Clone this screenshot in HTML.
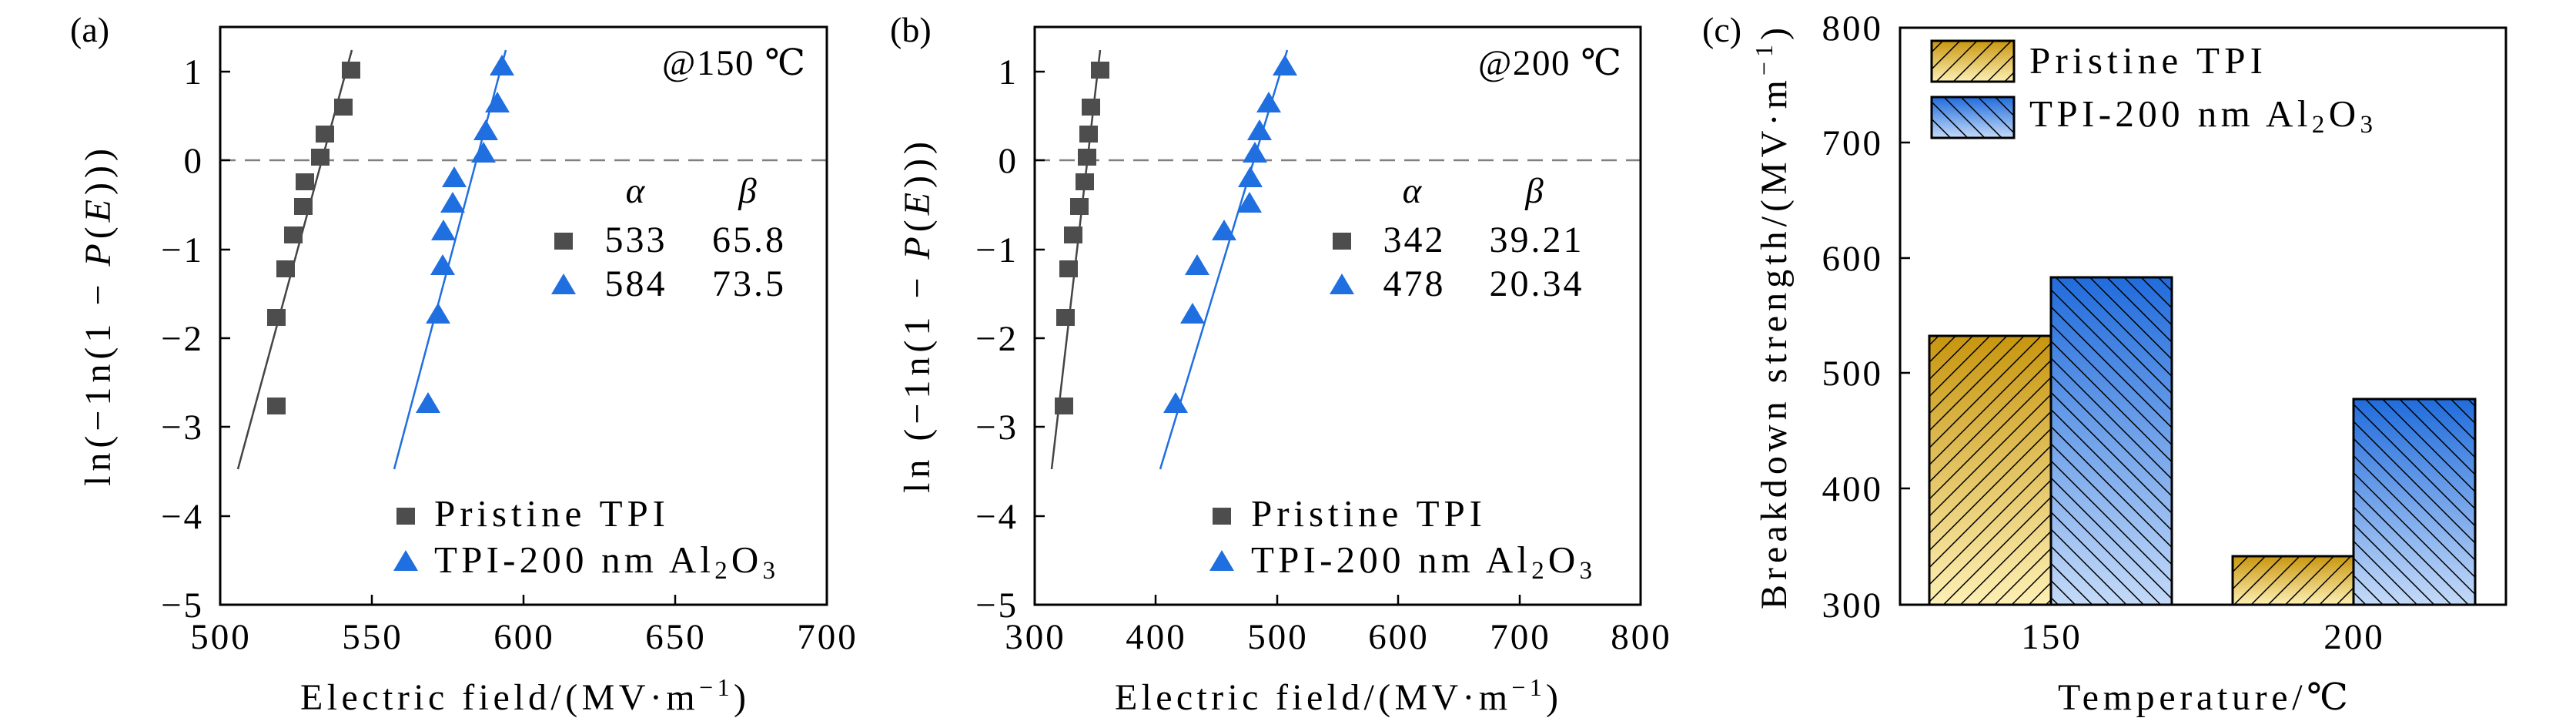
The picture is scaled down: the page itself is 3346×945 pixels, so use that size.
<!DOCTYPE html>
<html><head><meta charset="utf-8"><style>
html,body{margin:0;padding:0;background:#fff;}
svg{display:block;}
text{font-family:"Liberation Serif","DejaVu Serif",serif;fill:#000;}
.tk{letter-spacing:3px;}
</style></head><body>
<svg width="3346" height="945" viewBox="0 0 3346 945" xmlns="http://www.w3.org/2000/svg">
<defs>
<linearGradient id="gold" x1="0" y1="0" x2="0" y2="1"><stop offset="0" stop-color="#c8960f"/><stop offset="1" stop-color="#fdf0b4"/></linearGradient>
<linearGradient id="blue" x1="0" y1="0" x2="0" y2="1"><stop offset="0" stop-color="#206cdc"/><stop offset="1" stop-color="#c4daf8"/></linearGradient>
<pattern id="hf" patternUnits="userSpaceOnUse" width="15.7" height="15.7" patternTransform="rotate(45)"><line x1="0" y1="0" x2="0" y2="15.7" stroke="#000" stroke-width="3"/></pattern>
<pattern id="hb" patternUnits="userSpaceOnUse" width="15.7" height="15.7" patternTransform="rotate(-45)"><line x1="0" y1="0" x2="0" y2="15.7" stroke="#000" stroke-width="3"/></pattern>
<rect id="sq" x="-12" y="-11" width="24" height="22" fill="#4d4d4d"/>
<polygon id="tr" points="0,-15 -16,12 16,12" fill="#1f6fe0"/>
</defs>

<!-- Panel a -->
<line x1="286" y1="208" x2="1074" y2="208" stroke="#808080" stroke-width="2.5" stroke-dasharray="20,12"/>
<line x1="309" y1="609" x2="457" y2="65" stroke="#444" stroke-width="2.5"/>
<line x1="512" y1="609" x2="657" y2="65" stroke="#1f6fe0" stroke-width="2.5"/>
<g>
<use href="#sq" x="456" y="91"/><use href="#sq" x="446" y="139"/><use href="#sq" x="422" y="174"/><use href="#sq" x="416" y="204"/><use href="#sq" x="396" y="236"/><use href="#sq" x="394" y="268"/><use href="#sq" x="381" y="305"/><use href="#sq" x="371" y="349"/><use href="#sq" x="359" y="412"/><use href="#sq" x="359" y="527"/>
<use href="#tr" x="652" y="86"/><use href="#tr" x="646" y="134"/><use href="#tr" x="631" y="170"/><use href="#tr" x="628" y="199"/><use href="#tr" x="590" y="231"/><use href="#tr" x="588" y="264"/><use href="#tr" x="576" y="300"/><use href="#tr" x="575" y="345"/><use href="#tr" x="569" y="408"/><use href="#tr" x="556" y="524"/>
</g>
<rect x="286" y="35" width="788" height="750" fill="none" stroke="#000" stroke-width="3"/>
<g stroke="#000" stroke-width="2.5">
<line x1="483" y1="785" x2="483" y2="772"/><line x1="680" y1="785" x2="680" y2="772"/><line x1="877" y1="785" x2="877" y2="772"/>
<line x1="286" y1="93" x2="299" y2="93"/><line x1="286" y1="208" x2="299" y2="208"/><line x1="286" y1="324" x2="299" y2="324"/><line x1="286" y1="439" x2="299" y2="439"/><line x1="286" y1="554" x2="299" y2="554"/><line x1="286" y1="670" x2="299" y2="670"/>
</g>
<g font-size="47" text-anchor="end" class="tk">
<text x="265" y="109">1</text><text x="265" y="224">0</text><text x="265" y="340">−1</text><text x="265" y="455">−2</text><text x="265" y="570">−3</text><text x="265" y="686">−4</text><text x="265" y="801">−5</text>
</g>
<g font-size="47" text-anchor="middle" class="tk">
<text x="287" y="842">500</text><text x="484" y="842">550</text><text x="681" y="842">600</text><text x="878" y="842">650</text><text x="1075" y="842">700</text>
</g>
<text x="390" y="921" font-size="48" textLength="579" lengthAdjust="spacing">Electric field/(MV·m<tspan font-size="32" dy="-18">−1</tspan><tspan dy="18">)</tspan></text>
<text transform="translate(143,631) rotate(-90)" font-size="48" textLength="438" lengthAdjust="spacing">ln(−1n(1 − <tspan font-style="italic">P</tspan>(<tspan font-style="italic">E</tspan>)))</text>
<text x="91" y="54" font-size="46">(a)</text>
<text x="860" y="97" font-size="47" textLength="186" lengthAdjust="spacing">@150 ℃</text>
<text x="825" y="263" font-size="47" text-anchor="middle" font-style="italic">α</text>
<text x="971" y="263" font-size="47" text-anchor="middle" font-style="italic">β</text>
<use href="#sq" x="732" y="313"/><use href="#tr" x="732" y="370"/>
<g font-size="48" text-anchor="middle" class="tk"><text x="826" y="327">533</text><text x="973" y="327">65.8</text><text x="826" y="384">584</text><text x="973" y="384">73.5</text></g>
<use href="#sq" x="527" y="670"/><use href="#tr" x="527" y="729"/>
<text x="564" y="683" font-size="49" textLength="300" lengthAdjust="spacing">Pristine TPI</text>
<text x="564" y="743" font-size="49" textLength="443" lengthAdjust="spacing">TPI-200 nm Al<tspan font-size="33" dy="8">2</tspan><tspan dy="-8">O</tspan><tspan font-size="33" dy="8">3</tspan></text>

<!-- Panel b -->
<line x1="1344" y1="208" x2="2131" y2="208" stroke="#808080" stroke-width="2.5" stroke-dasharray="20,12"/>
<line x1="1366" y1="609" x2="1429" y2="65" stroke="#444" stroke-width="2.5"/>
<line x1="1507" y1="609" x2="1672" y2="65" stroke="#1f6fe0" stroke-width="2.5"/>
<g>
<use href="#sq" x="1429" y="91"/><use href="#sq" x="1417" y="139"/><use href="#sq" x="1414" y="174"/><use href="#sq" x="1412" y="204"/><use href="#sq" x="1409" y="236"/><use href="#sq" x="1402" y="268"/><use href="#sq" x="1394" y="305"/><use href="#sq" x="1388" y="349"/><use href="#sq" x="1384" y="412"/><use href="#sq" x="1382" y="527"/>
<use href="#tr" x="1669" y="86"/><use href="#tr" x="1648" y="134"/><use href="#tr" x="1636" y="170"/><use href="#tr" x="1630" y="199"/><use href="#tr" x="1624" y="231"/><use href="#tr" x="1623" y="264"/><use href="#tr" x="1590" y="300"/><use href="#tr" x="1555" y="345"/><use href="#tr" x="1549" y="408"/><use href="#tr" x="1527" y="524"/>
</g>
<rect x="1344" y="35" width="787" height="750" fill="none" stroke="#000" stroke-width="3"/>
<g stroke="#000" stroke-width="2.5">
<line x1="1501" y1="785" x2="1501" y2="772"/><line x1="1659" y1="785" x2="1659" y2="772"/><line x1="1816" y1="785" x2="1816" y2="772"/><line x1="1974" y1="785" x2="1974" y2="772"/>
<line x1="1344" y1="93" x2="1357" y2="93"/><line x1="1344" y1="208" x2="1357" y2="208"/><line x1="1344" y1="324" x2="1357" y2="324"/><line x1="1344" y1="439" x2="1357" y2="439"/><line x1="1344" y1="554" x2="1357" y2="554"/><line x1="1344" y1="670" x2="1357" y2="670"/>
</g>
<g font-size="47" text-anchor="end" class="tk">
<text x="1323" y="109">1</text><text x="1323" y="224">0</text><text x="1323" y="340">−1</text><text x="1323" y="455">−2</text><text x="1323" y="570">−3</text><text x="1323" y="686">−4</text><text x="1323" y="801">−5</text>
</g>
<g font-size="47" text-anchor="middle" class="tk">
<text x="1345" y="842">300</text><text x="1502" y="842">400</text><text x="1660" y="842">500</text><text x="1817" y="842">600</text><text x="1975" y="842">700</text><text x="2132" y="842">800</text>
</g>
<text x="1448" y="921" font-size="48" textLength="576" lengthAdjust="spacing">Electric field/(MV·m<tspan font-size="32" dy="-18">−1</tspan><tspan dy="18">)</tspan></text>
<text transform="translate(1207,640) rotate(-90)" font-size="48" textLength="456" lengthAdjust="spacing">ln (−1n(1 − <tspan font-style="italic">P</tspan>(<tspan font-style="italic">E</tspan>)))</text>
<text x="1156" y="54" font-size="46">(b)</text>
<text x="1920" y="97" font-size="47" textLength="186" lengthAdjust="spacing">@200 ℃</text>
<text x="1834" y="263" font-size="47" text-anchor="middle" font-style="italic">α</text>
<text x="1993" y="263" font-size="47" text-anchor="middle" font-style="italic">β</text>
<use href="#sq" x="1743" y="313"/><use href="#tr" x="1743" y="370"/>
<g font-size="48" text-anchor="middle" class="tk"><text x="1837" y="327">342</text><text x="1996" y="327">39.21</text><text x="1837" y="384">478</text><text x="1996" y="384">20.34</text></g>
<use href="#sq" x="1587" y="670"/><use href="#tr" x="1587" y="729"/>
<text x="1625" y="683" font-size="49" textLength="300" lengthAdjust="spacing">Pristine TPI</text>
<text x="1625" y="743" font-size="49" textLength="443" lengthAdjust="spacing">TPI-200 nm Al<tspan font-size="33" dy="8">2</tspan><tspan dy="-8">O</tspan><tspan font-size="33" dy="8">3</tspan></text>

<!-- Panel c -->
<g stroke="#000" stroke-width="3">
<rect x="2506" y="436" width="158" height="349" fill="url(#gold)"/>
<rect x="2506" y="436" width="158" height="349" fill="url(#hf)"/>
<rect x="2664" y="360" width="157" height="425" fill="url(#blue)"/>
<rect x="2664" y="360" width="157" height="425" fill="url(#hb)"/>
<rect x="2900" y="722" width="157" height="63" fill="url(#gold)"/>
<rect x="2900" y="722" width="157" height="63" fill="url(#hf)"/>
<rect x="3057" y="518" width="158" height="267" fill="url(#blue)"/>
<rect x="3057" y="518" width="158" height="267" fill="url(#hb)"/>
<rect x="2509" y="53" width="107" height="53" fill="url(#gold)"/>
<rect x="2509" y="53" width="107" height="53" fill="url(#hf)"/>
<rect x="2509" y="126" width="107" height="53" fill="url(#blue)"/>
<rect x="2509" y="126" width="107" height="53" fill="url(#hb)"/>
</g>
<rect x="2468" y="36" width="787" height="749" fill="none" stroke="#000" stroke-width="3"/>
<g stroke="#000" stroke-width="2.5">
<line x1="2468" y1="185" x2="2481" y2="185"/><line x1="2468" y1="335" x2="2481" y2="335"/><line x1="2468" y1="484" x2="2481" y2="484"/><line x1="2468" y1="634" x2="2481" y2="634"/>
</g>
<g font-size="47" text-anchor="end" class="tk">
<text x="2446" y="52">800</text><text x="2446" y="201">700</text><text x="2446" y="351">600</text><text x="2446" y="500">500</text><text x="2446" y="650">400</text><text x="2446" y="801">300</text>
</g>
<g font-size="47" text-anchor="middle" class="tk"><text x="2665" y="842">150</text><text x="3058" y="842">200</text></g>
<text x="2673" y="921" font-size="48" textLength="377" lengthAdjust="spacing">Temperature/℃</text>
<text transform="translate(2320,791) rotate(-90)" font-size="48" textLength="755" lengthAdjust="spacing">Breakdown strength/(MV·m<tspan font-size="32" dy="-18">−1</tspan><tspan dy="18">)</tspan></text>
<text x="2211" y="54" font-size="46">(c)</text>
<text x="2636" y="95" font-size="49" textLength="303" lengthAdjust="spacing">Pristine TPI</text>
<text x="2636" y="164" font-size="49" textLength="446" lengthAdjust="spacing">TPI-200 nm Al<tspan font-size="33" dy="8">2</tspan><tspan dy="-8">O</tspan><tspan font-size="33" dy="8">3</tspan></text>
</svg>
</body></html>
